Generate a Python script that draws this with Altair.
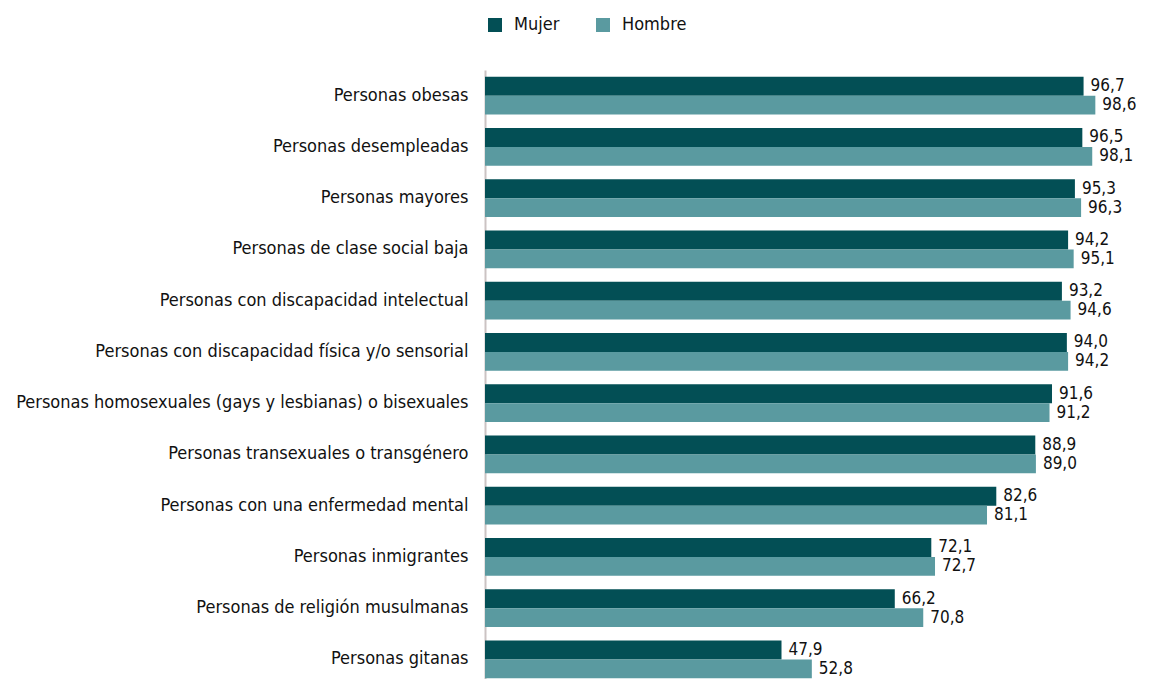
import altair as alt
import pandas as pd

categorias = [
    "Personas obesas",
    "Personas desempleadas",
    "Personas mayores",
    "Personas de clase social baja",
    "Personas con discapacidad intelectual",
    "Personas con discapacidad física y/o sensorial",
    "Personas homosexuales (gays y lesbianas) o bisexuales",
    "Personas transexuales o transgénero",
    "Personas con una enfermedad mental",
    "Personas inmigrantes",
    "Personas de religión musulmanas",
    "Personas gitanas",
]
mujer = [96.7, 96.5, 95.3, 94.2, 93.2, 94.0, 91.6, 88.9, 82.6, 72.1, 66.2, 47.9]
hombre = [98.6, 98.1, 96.3, 95.1, 94.6, 94.2, 91.2, 89.0, 81.1, 72.7, 70.8, 52.8]
series = ["Mujer", "Hombre"]
colores = ["#034f55", "#5a9aa0"]

rows = []
for c, m, h in zip(categorias, mujer, hombre):
    rows.append({"cat": c, "sexo": "Mujer", "valor": m, "etiqueta": f"{m:.1f}".replace(".", ",")})
    rows.append({"cat": c, "sexo": "Hombre", "valor": h, "etiqueta": f"{h:.1f}".replace(".", ",")})
df = pd.DataFrame(rows)

FONT = "DejaVu Sans Condensed, sans-serif"

y_enc = alt.Y("cat:N", sort=categorias, title=None,
              scale=alt.Scale(paddingInner=0.26, paddingOuter=0.13),
              axis=alt.Axis(domain=True, domainColor="#cbc3c3", domainWidth=2, ticks=False,
                            labelPadding=17, labelFontSize=18, labelFont=FONT,
                            labelColor="#111111", labelLimit=600))
x_enc = alt.X("valor:Q", scale=alt.Scale(domain=[0, 100]), axis=None)
yoff = alt.YOffset("sexo:N", sort=series, scale=alt.Scale(domain=series, paddingInner=0, paddingOuter=0))

bars = alt.Chart(df).mark_bar().encode(
    y=y_enc,
    x=x_enc,
    yOffset=yoff,
    color=alt.Color("sexo:N", sort=series,
                    scale=alt.Scale(domain=series, range=colores),
                    legend=alt.Legend(title=None, orient="none", direction="horizontal",
                                      legendX=1, legendY=-54,
                                      symbolType="square", symbolSize=196,
                                      symbolStrokeWidth=0, symbolOpacity=1,
                                      labelFontSize=18, labelFont=FONT, labelColor="#111111",
                                      labelOffset=10, columnPadding=34)),
)

text = alt.Chart(df).mark_text(align="left", baseline="middle", dx=7,
                               fontSize=17, font=FONT, color="#111111").encode(
    y=alt.Y("cat:N", sort=categorias),
    x=x_enc,
    yOffset=yoff,
    text="etiqueta:N",
)

chart = (bars + text).properties(
    width=619, height=615,
    padding={"left": 477, "top": 62, "right": 38, "bottom": 0},
    autosize=alt.AutoSizeParams(type="none"),
).configure_view(stroke=None)

chart.save("out.html", embed_options={"renderer": "svg", "actions": False})
